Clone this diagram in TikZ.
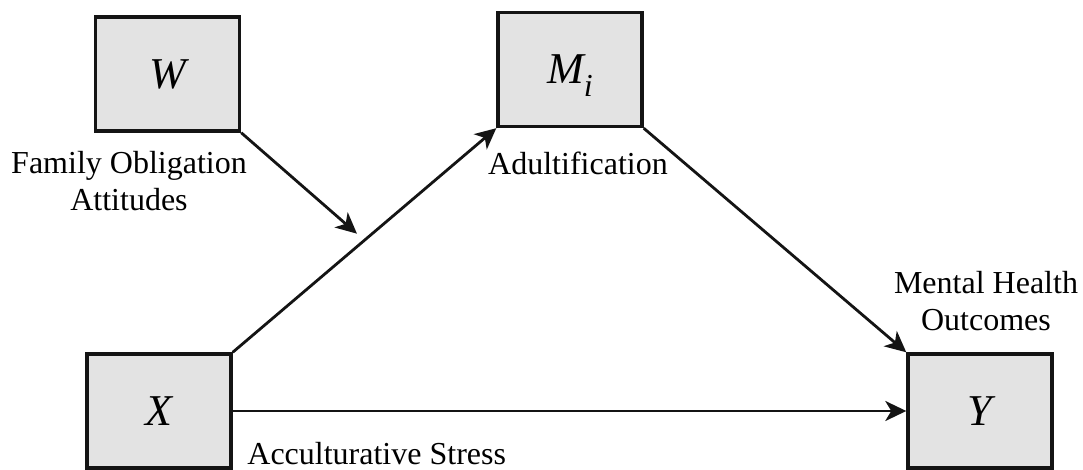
\documentclass[tikz,border=0pt]{standalone}
\usepackage{fontspec}
\setmainfont{Liberation Serif}
\usetikzlibrary{arrows.meta,calc}
\definecolor{boxgray}{HTML}{E3E3E3}
\definecolor{ink}{HTML}{141414}
\begin{document}
\begin{tikzpicture}[x=0.5pt,y=-0.5pt,
  var/.style={draw=ink, line width=1.7pt, fill=boxgray,
    minimum width=72pt, minimum height=57pt, inner sep=0pt,
    font=\fontsize{22}{22}\selectfont\itshape},
  lbl/.style={font=\fontsize{16}{18.5}\selectfont, inner sep=0pt, align=center},
  link/.style={line width=1.4pt, draw=ink,
    -{Stealth[length=10.5pt,width=10pt,inset=3pt]}}
]
\useasboundingbox (0,0) rectangle (1083,470);

% variables of the moderated mediation model
\node[var] (W) at (167.5,74) {W};
\node[var] (M) at (570,69.5) {M\smash{\raisebox{-6.5pt}{\fontsize{16}{16}\selectfont i}}};
\node[var] (X) at (159,411) {X};
\node[var] (Y) at (980,411) {Y};

% construct labels
\node[lbl] (famlbl) at (129,181.5) {Family Obligation\\Attitudes};
\node[lbl, anchor=base] (adultlbl) at (578,175) {Adultification};
\node[lbl] (mhlbl) at (986,301) {Mental Health\\Outcomes};
\node[lbl, anchor=base west] (acclbl) at (247,465) {Acculturative Stress};

% paths
\coordinate (mid) at ($(X.north east)!0.5!(M.south west)$);
\draw[link] (X.north east) -- (M.south west);
\draw[link] (M.south east) -- (Y.north west);
\draw[link] (X.east) -- (Y.west);
\draw[link, shorten >=5pt] (W.south east) -- (mid);
\end{tikzpicture}
\end{document}
